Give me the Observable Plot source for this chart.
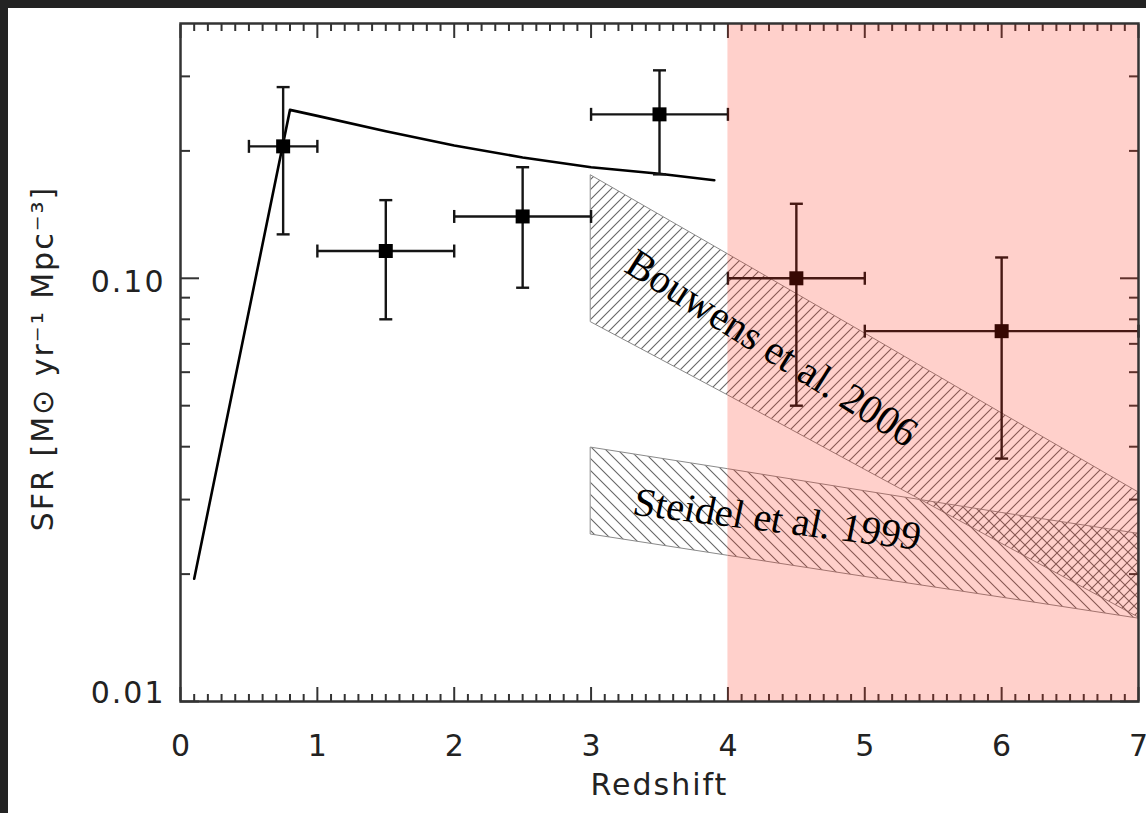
<!DOCTYPE html>
<html>
<head>
<meta charset="utf-8">
<script src="https://cdn.jsdelivr.net/npm/d3@7"></script>
<script src="https://cdn.jsdelivr.net/npm/@observablehq/plot@0.6"></script>
<style>
  html, body { margin: 0; padding: 0; background: #232323; }
  #page { position: absolute; left: 8px; top: 8px; width: 1138px; height: 805px; background: #ffffff; }
  #chart { position: absolute; left: 0; top: 0; }
</style>
</head>
<body>
<div id="page"></div>
<div id="chart"></div>
<script>
// Star-formation-rate density measurements (bin centre, bin edges, value and 1-sigma range)
const redshift = [0.75, 1.5, 2.5, 3.5, 4.5, 6.0];
const zLow     = [0.5, 1.0, 2.0, 3.0, 4.0, 5.0];
const zHigh    = [1.0, 2.0, 3.0, 4.0, 5.0, 7.0];
const sfr      = [0.205, 0.116, 0.140, 0.244, 0.100, 0.075];
const sfrLow   = [0.127, 0.080, 0.095, 0.176, 0.050, 0.0375];
const sfrHigh  = [0.283, 0.153, 0.183, 0.310, 0.150, 0.112];

// Model star-formation history
const modelZ   = [0.1, 0.8, 1.0, 1.5, 2.0, 2.5, 3.0, 3.5, 3.9];
const modelSfr = [0.0195, 0.250, 0.242, 0.2225, 0.206, 0.193, 0.183, 0.1766, 0.1705];

// Literature bands
const bandZ       = [3, 4, 5, 6, 7];
const bouwensHigh = [0.175, 0.114, 0.0741, 0.0480, 0.0312];
const bouwensLow  = [0.0787, 0.0529, 0.0353, 0.0236, 0.0158];
const steidelHigh = [0.0398, 0.0354, 0.0314, 0.0279, 0.0249];
const steidelLow  = [0.0248, 0.0221, 0.0197, 0.0176, 0.0157];

// Shaded redshift interval
const shadedZ = [4, 7];

// Axis ticks
const xTicks = [0, 1, 2, 3, 4, 5, 6, 7];
const xMinorTicks = d3.range(1, 70).filter(i => i % 10 !== 0).map(i => i / 10);
const yTicks = [0.01, 0.1];
const yTickLabels = ["0.01", "0.10"];
const yMinorTicks = [0.02, 0.03, 0.04, 0.05, 0.06, 0.07, 0.08, 0.09, 0.2, 0.3];

// Band annotations
const bouwensLabel = {z: 4.32, sfr: 0.0683, text: "Bouwens et al. 2006"};
const steidelLabel = {z: 4.36, sfr: 0.0269, text: "Steidel et al. 1999"};

const points = redshift.map((z, i) => ({z, z0: zLow[i], z1: zHigh[i], s: sfr[i], s0: sfrLow[i], s1: sfrHigh[i]}));
const model = modelZ.map((z, i) => ({z, s: modelSfr[i]}));
const bouwens = bandZ.map((z, i) => ({z, lo: bouwensLow[i], hi: bouwensHigh[i]}));
const steidel = bandZ.map((z, i) => ({z, lo: steidelLow[i], hi: steidelHigh[i]}));

// Error-bar caps as custom symbols
const capH = {draw(ctx, size) { const r = Math.sqrt(size / Math.PI); ctx.moveTo(-r, 0); ctx.lineTo(r, 0); }};
const capV = {draw(ctx, size) { const r = Math.sqrt(size / Math.PI); ctx.moveTo(0, -r); ctx.lineTo(0, r); }};

const ink = "#151515";
const axisInk = "#333333";
const sans = "DejaVu Sans";

const chart = Plot.plot({
  width: 1146,
  height: 813,
  marginLeft: 180,
  marginRight: 8,
  marginTop: 23,
  marginBottom: 112,
  style: {background: "transparent", fontFamily: sans, overflow: "visible"},
  x: {domain: [0, 7], axis: null},
  y: {type: "log", domain: [0.01, 0.4], axis: null},
  marks: [
    // hatched literature bands
    Plot.areaY(bouwens, {x: "z", y1: "lo", y2: "hi", fill: "url(#hatch-bouwens)", stroke: "#8a8a8a", strokeWidth: 1}),
    Plot.areaY(steidel, {x: "z", y1: "lo", y2: "hi", fill: "url(#hatch-steidel)", stroke: "#8a8a8a", strokeWidth: 1}),
    // model curve
    Plot.line(model, {x: "z", y: "s", stroke: "#000", strokeWidth: 2.6}),
    // error bars
    Plot.link(points, {x1: "z0", x2: "z1", y1: "s", y2: "s", stroke: ink, strokeWidth: 2.4}),
    Plot.link(points, {x1: "z", x2: "z", y1: "s0", y2: "s1", stroke: ink, strokeWidth: 2.4}),
    Plot.dot(points, {x: "z", y: "s0", symbol: capH, r: 6.5, stroke: ink, strokeWidth: 2.4}),
    Plot.dot(points, {x: "z", y: "s1", symbol: capH, r: 6.5, stroke: ink, strokeWidth: 2.4}),
    Plot.dot(points, {x: "z0", y: "s", symbol: capV, r: 6.5, stroke: ink, strokeWidth: 2.4}),
    Plot.dot(points, {x: "z1", y: "s", symbol: capV, r: 6.5, stroke: ink, strokeWidth: 2.4}),
    Plot.dot(points, {x: "z", y: "s", symbol: "square", r: 7.9, fill: "#000"}),
    // inward ticks on all four sides
    Plot.axisX(xMinorTicks, {anchor: "bottom", tickSize: -7, tickFormat: () => "", label: null, stroke: axisInk, strokeWidth: 2}),
    Plot.axisX(xTicks, {anchor: "bottom", tickSize: -14, tickFormat: () => "", label: null, stroke: axisInk, strokeWidth: 2}),
    Plot.axisX(xMinorTicks, {anchor: "top", tickSize: -7, tickFormat: () => "", label: null, stroke: axisInk, strokeWidth: 2}),
    Plot.axisX(xTicks, {anchor: "top", tickSize: -14, tickFormat: () => "", label: null, stroke: axisInk, strokeWidth: 2}),
    Plot.axisY(yMinorTicks, {anchor: "left", tickSize: -10, tickFormat: () => "", label: null, stroke: axisInk, strokeWidth: 2}),
    Plot.axisY(yTicks, {anchor: "left", tickSize: -19, tickFormat: () => "", label: null, stroke: axisInk, strokeWidth: 2}),
    Plot.axisY(yMinorTicks, {anchor: "right", tickSize: -10, tickFormat: () => "", label: null, stroke: axisInk, strokeWidth: 2}),
    Plot.axisY(yTicks, {anchor: "right", tickSize: -19, tickFormat: () => "", label: null, stroke: axisInk, strokeWidth: 2}),
    // shaded high-redshift interval
    Plot.rect([shadedZ], {x1: d => d[0], x2: d => d[1], fill: "rgb(255,37,14)", fillOpacity: 0.216}),
    Plot.frame({stroke: axisInk, strokeWidth: 2.5}),
    // tick labels
    Plot.text(xTicks, {x: d => d, frameAnchor: "bottom", dy: 45, text: d => String(d), fontSize: 30, fill: "#222", lineAnchor: "middle"}),
    Plot.text([0], {y: () => yTicks[0], frameAnchor: "left", dx: -15, dy: -8, text: () => yTickLabels[0], textAnchor: "end", lineAnchor: "middle", fontSize: 30, fill: "#222"}),
    Plot.text([1], {y: () => yTicks[1], frameAnchor: "left", dx: -15, dy: 4, text: () => yTickLabels[1], textAnchor: "end", lineAnchor: "middle", fontSize: 30, fill: "#222"}),
    // axis titles
    Plot.text(["Redshift"], {frameAnchor: "bottom", dy: 84, text: d => d, fontSize: 30, fill: "#222", textAnchor: "middle", lineAnchor: "middle"}),
    Plot.text(["SFR [M\u2299 yr\u207B\u00B9 Mpc\u207B\u00B3]"], {frameAnchor: "left", dx: -137, dy: -4, rotate: -90, text: d => d, fontSize: 30, fill: "#222", textAnchor: "middle", lineAnchor: "middle"}),
    // band annotations
    Plot.text([bouwensLabel], {x: "z", y: "sfr", text: "text", rotate: 32, fontFamily: "Liberation Serif", fontSize: 41, fill: "#000", lineAnchor: "middle"}),
    Plot.text([steidelLabel], {x: "z", y: "sfr", text: "text", rotate: 7, fontFamily: "Liberation Serif", fontSize: 40, fill: "#000", lineAnchor: "middle"})
  ]
});

// hatch patterns for the bands
const svg = d3.select(chart);
const defs = svg.insert("defs", ":first-child");
defs.append("pattern")
  .attr("id", "hatch-bouwens").attr("patternUnits", "userSpaceOnUse")
  .attr("width", 10).attr("height", 10)
  .append("path").attr("d", "M-2,2L2,-2M0,10L10,0M8,12L12,8")
  .attr("stroke", "#666").attr("stroke-width", 1.1).attr("fill", "none");
defs.append("pattern")
  .attr("id", "hatch-steidel").attr("patternUnits", "userSpaceOnUse")
  .attr("width", 12).attr("height", 12)
  .append("path").attr("d", "M-3,9L3,15M0,0L12,12M9,-3L15,3")
  .attr("stroke", "#666").attr("stroke-width", 1.1).attr("fill", "none");

// letter spacing for the sans-serif labels, slight slant for the Steidel label
svg.selectAll("text").each(function () {
  const t = this.textContent;
  if (t.startsWith("Steidel")) {
    const tr = this.getAttribute("transform") || "";
    this.setAttribute("transform", tr + " skewX(-5)");
  } else if (!t.startsWith("Bouwens")) {
    this.setAttribute("letter-spacing", t.length > 1 ? "2" : "0");
  }
});

document.getElementById("chart").appendChild(chart);
</script>
</body>
</html>
